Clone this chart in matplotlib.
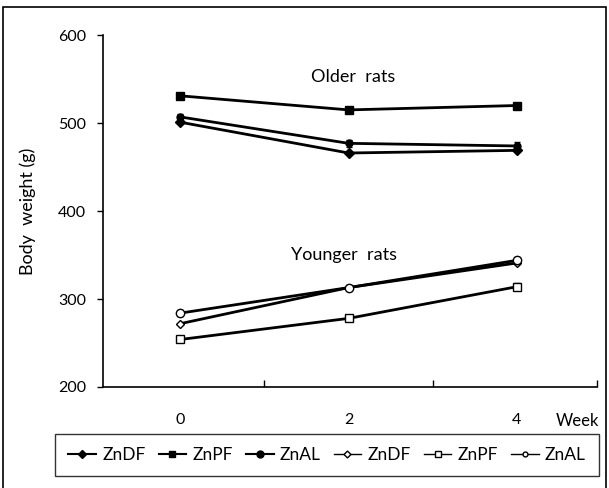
import matplotlib
matplotlib.use("Agg")
import matplotlib.pyplot as plt
from matplotlib.lines import Line2D
from matplotlib.patches import Rectangle

weeks = [0, 2, 4]
older_ZnDF = [501, 466, 469]
older_ZnPF = [531, 515, 520]
older_ZnAL = [507, 477, 474]
young_ZnDF = [272, 313, 341]
young_ZnPF = [254, 278, 314]
young_ZnAL = [284, 313, 344]
err_older_ZnAL = [3, 4, 4]
err_young_ZnAL = [3, 3, 4]
err_young_ZnPF = [3, 3, 4]
legend_labels = ["ZnDF", "ZnPF", "ZnAL", "ZnDF", "ZnPF", "ZnAL"]
yticks = [200, 300, 400, 500, 600]
xticks = [0, 2, 4]

plt.rcParams['font.family'] = ['Lato', 'DejaVu Sans']

fig = plt.figure(figsize=(6.09, 4.88), dpi=100)
ax = fig.add_axes([0.169, 0.207, 0.811, 0.721])

lw = 2.0
ax.plot(weeks, older_ZnPF, color='black', lw=lw, marker='s', ms=6, mfc='black')
ax.errorbar(weeks, older_ZnAL, yerr=err_older_ZnAL, color='black', lw=lw,
            marker='o', ms=5, mfc='black', capsize=2.5, elinewidth=1)
ax.plot(weeks, older_ZnDF, color='black', lw=lw, marker='D', ms=5, mfc='black')
ax.errorbar(weeks, young_ZnPF, yerr=err_young_ZnPF, color='black', lw=lw,
            marker='s', ms=6, mfc='white', capsize=2.5, elinewidth=1)
ax.plot(weeks, young_ZnDF, color='black', lw=lw, marker='D', ms=4.5, mfc='white')
ax.errorbar(weeks, young_ZnAL, yerr=err_young_ZnAL, color='black', lw=lw,
            marker='o', ms=6, mfc='white', capsize=2.5, elinewidth=1)

ax.set_xlim(-0.92, 4.95)
ax.set_ylim(200, 600)
ax.set_yticks(yticks)
ax.set_yticklabels([str(v) for v in yticks], fontsize=11.5)
ax.set_xticks([1, 3, 4.95])
ax.set_xticklabels([])
ax.tick_params(axis='x', direction='in', length=5, width=1)
ax.tick_params(axis='y', direction='out', length=4, width=1, pad=8)
for xv in xticks:
    ax.text(xv, -0.075, str(xv), transform=ax.get_xaxis_transform(),
            ha='center', va='top', fontsize=11.5)
ax.text(4.72, -0.075, "Week", transform=ax.get_xaxis_transform(),
        ha='center', va='top', fontsize=12)
ax.spines['top'].set_visible(False)
ax.spines['right'].set_visible(False)
for s in ['left', 'bottom']:
    ax.spines[s].set_linewidth(1.2)

ax.set_ylabel("Body  weight (g)", fontsize=13, labelpad=16)
ax.text(2.05, 552, "Older  rats", ha='center', va='center', fontsize=13)
ax.text(1.95, 350, "Younger  rats", ha='center', va='center', fontsize=13)

handles = [
    Line2D([], [], color='black', lw=1.5, marker='D', ms=4, mfc='black'),
    Line2D([], [], color='black', lw=1.5, marker='s', ms=5, mfc='black'),
    Line2D([], [], color='black', lw=1.5, marker='o', ms=5, mfc='black'),
    Line2D([], [], color='black', lw=1.0, marker='D', ms=3.5, mfc='white'),
    Line2D([], [], color='black', lw=1.0, marker='s', ms=5, mfc='white'),
    Line2D([], [], color='black', lw=1.0, marker='o', ms=3.5, mfc='white'),
]
leg = fig.legend(handles, legend_labels, loc='center', ncol=6,
                 bbox_to_anchor=(0.537, 0.068), fontsize=12.5, frameon=True,
                 fancybox=False, edgecolor='black', handlelength=1.6,
                 handletextpad=0.35, columnspacing=0.75, borderpad=0.75)
leg.get_frame().set_linewidth(1.0)

fig.patches.append(Rectangle((0.005, -0.01), 0.99, 0.995, transform=fig.transFigure,
                             fill=False, edgecolor='black', lw=1.2))

fig.savefig("out.png", dpi=100)
